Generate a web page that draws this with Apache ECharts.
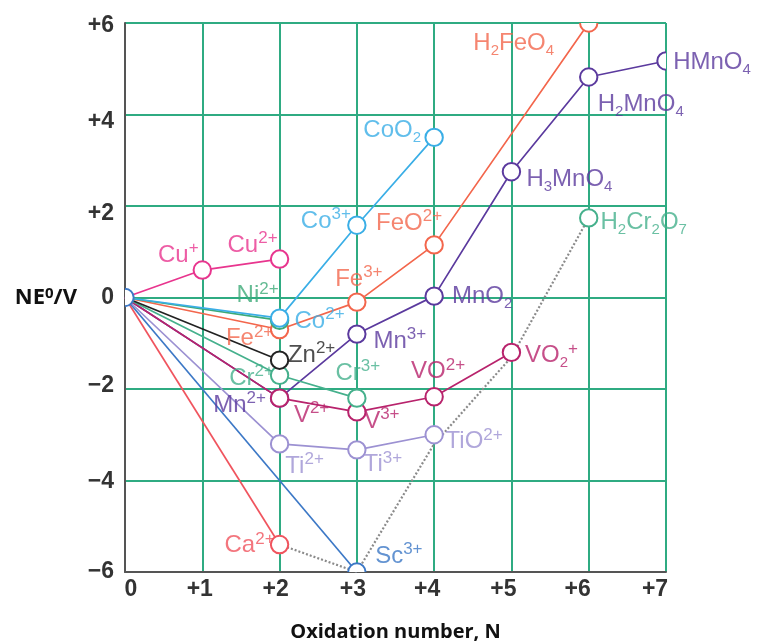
<!DOCTYPE html>
<html><head><meta charset="utf-8">
<script src="https://cdn.jsdelivr.net/npm/echarts@6.0.0/dist/echarts.min.js"></script>
<style>html,body{margin:0;padding:0;background:#fff}#c{width:760px;height:644px}</style>
</head><body><div id="c"></div>
<script>
// ---- data (oxidation number N, volt-equivalent NE°/V) ----
const xTickLabels = ['0','+1','+2','+3','+4','+5','+6','+7'];
const yTickLabels = ['−6','−4','−2','0','+2','+4','+6'];

const caN = [0, 2];            const caE = [0, -5.4];
const caLab = ['', 'Ca{sup|2+}'];
const scN = [0, 3];            const scE = [0, -6.0];
const scLab = ['', 'Sc{sup|3+}'];
const tiN = [0, 2, 3, 4];      const tiE = [0, -3.2, -3.33, -3.0];
const tiLab = ['', 'Ti{sup|2+}', 'Ti{sup|3+}', 'TiO{sup|2+}'];
const vN = [0, 2, 3, 4, 5];    const vE = [0, -2.2, -2.5, -2.17, -1.2];
const vLab = ['', 'V{sup|2+}', 'V{sup|3+}', 'VO{sup|2+}', 'VO{sub|2}{sup|+}'];
const crN = [0, 2, 3];         const crE = [0, -1.7, -2.2];
const crLab = ['', 'Cr{sup|2+}', 'Cr{sup|3+}'];
const cr6N = [6];              const cr6E = [1.74];
const cr6Lab = ['H{sub|2}Cr{sub|2}O{sub|7}'];
const mnN = [0, 2, 3, 4, 5, 6, 7];
const mnE = [0, -2.2, -0.8, 0.03, 2.75, 4.82, 5.17];
const mnLab = ['', 'Mn{sup|2+}', 'Mn{sup|3+}', 'MnO{sub|2}', 'H{sub|3}MnO{sub|4}', 'H{sub|2}MnO{sub|4}', 'HMnO{sub|4}'];
const feN = [0, 2, 3, 4, 6];   const feE = [0, -0.7, -0.1, 1.15, 6.0];
const feLab = ['', 'Fe{sup|2+}', 'Fe{sup|3+}', 'FeO{sup|2+}', 'H{sub|2}FeO{sub|4}'];
const coN = [0, 2, 3, 4];      const coE = [0, -0.45, 1.58, 3.5];
const coLab = ['', 'Co{sup|2+}', 'Co{sup|3+}', 'CoO{sub|2}'];
const niN = [0, 2];            const niE = [0, -0.5];
const niLab = ['', 'Ni{sup|2+}'];
const cuN = [0, 1, 2];         const cuE = [0, 0.6, 0.84];
const cuLab = ['', 'Cu{sup|+}', 'Cu{sup|2+}'];
const znN = [0, 2];            const znE = [0, -1.37];
const znLab = ['', 'Zn{sup|2+}'];
const trendN = [2, 3, 4, 5, 6];
const trendE = [-5.4, -6.0, -3.2, -1.3, 1.74];
const originN = [0];           const originE = [0];

// ---- styles ----
const C = {
  Ca:'#f0545e', Sc:'#3c78c6', Ti:'#9c91d2', V:'#b8236c', Cr:'#45b08c', Mn:'#5b3a9e',
  Fe:'#f3664c', Co:'#3aaee6', Ni:'#3daa78', Cu:'#e8358e', Zn:'#222222'
};
const GRID_GREEN = '#2fab82';
// label center offsets (px) relative to each point
const place = {
  Ca: [null, [-30, 1]],
  Sc: [null, [42, -16]],
  Ti: [null, [25, 22], [26, 15], [40, 7]],
  V:  [null, [32, 17], [25, 9], [4, -25], [40, 3]],
  Cr: [null, [-28, 3], [1, -25]],
  Cr6:[[55, 4]],
  Mn: [null, [-40, 7], [43, 7], [48, 0], [58, 8], [52, 27], [46, 1]],
  Fe: [null, [-30, 9], [2, -23], [-25, -22], [-75, 20]],
  Co: [null, [40, 3], [-31, -4], [-42, -7]],
  Ni: [null, [-22, -25]],
  Cu: [null, [-24, -15], [-27, -14]],
  Zn: [null, [32, -5]]
};
const xShift = [6, -2.5, -4, -4, -7, -8, -11, -11];
const yShift = [0, 1, -3, 0, 8, 7, 3];

const FONT = '"Liberation Sans", Arial, sans-serif';
const rich = {
  sup: {fontSize: 17, lineHeight: 18, verticalAlign: 'top', fontFamily: FONT},
  sub: {fontSize: 15, lineHeight: 10, verticalAlign: 'bottom', fontFamily: FONT}
};

const groups = [
  // key, N, E, labels, color
  ['Ca', caN, caE, caLab, C.Ca],
  ['Sc', scN, scE, scLab, C.Sc],
  ['Ti', tiN, tiE, tiLab, C.Ti],
  ['Mn', mnN, mnE, mnLab, C.Mn],
  ['V',  vN,  vE,  vLab,  C.V],
  ['Cr', crN, crE, crLab, C.Cr],
  ['Zn', znN, znE, znLab, C.Zn],
  ['Fe', feN, feE, feLab, C.Fe],
  ['Ni', niN, niE, niLab, C.Ni],
  ['Co', coN, coE, coLab, C.Co],
  ['Cu', cuN, cuE, cuLab, C.Cu],
  ['Cr6', cr6N, cr6E, cr6Lab, C.Cr]
];

const series = [];
// dotted trend line
series.push({
  type: 'line', data: trendN.map((n, i) => [n, trendE[i]]), showSymbol: false, symbol: 'none',
  lineStyle: {color: '#8a8a8a', width: 2.2, type: [2, 2]}, z: 2, clip: true, silent: true
});
// lines
groups.forEach(g => {
  if (g[1].length < 2) return;
  series.push({
    type: 'line', data: g[1].map((n, i) => [n, g[2][i]]), showSymbol: false, symbol: 'none',
    lineStyle: {color: g[4], width: 1.7}, z: 3, clip: true, silent: true
  });
});
// hollow circles (clipped to plot area)
function circles(N, E, color) {
  return {
    type: 'custom', clip: true, z: 5, silent: true,
    data: N.map((n, i) => [n, E[i]]),
    encode: {x: 0, y: 1},
    renderItem: (params, api) => {
      const p = api.coord([api.value(0), api.value(1)]);
      return {type: 'circle', shape: {cx: p[0], cy: p[1], r: 8.7},
              style: {fill: '#fff', stroke: color, lineWidth: 2}};
    }
  };
}
groups.forEach(g => {
  const start = g[1][0] === 0 ? 1 : 0;
  series.push(circles(g[1].slice(start), g[2].slice(start), g[4]));
});
series.push(circles(originN, originE, C.Sc));
// labels
groups.forEach(g => {
  const data = [];
  g[1].forEach((n, i) => {
    if (!g[3][i]) return;
    data.push({
      value: [n, g[2][i]],
      label: {formatter: g[3][i], offset: place[g[0]][i]}
    });
  });
  series.push({
    type: 'scatter', symbolSize: 0, z: 10, silent: true, data,
    label: {show: true, position: 'inside', align: 'center', verticalAlign: 'middle',
            color: g[4], fontSize: 24, lineHeight: 30, fontFamily: FONT,
            rich: {sup: Object.assign({color: g[4]}, rich.sup), sub: Object.assign({color: g[4]}, rich.sub)}}
  });
});

const xRich = {}, yRich = {};
xShift.forEach((s, i) => { xRich['x' + i] = {padding: s >= 0 ? [0, 0, 0, 2 * s] : [0, -2 * s, 0, 0]}; });
yShift.forEach((s, i) => { yRich['y' + i] = {padding: s >= 0 ? [2 * s, 0, 0, 0] : [0, 0, -2 * s, 0]}; });

const chart = echarts.init(document.getElementById('c'));
chart.setOption({
  animation: false,
  backgroundColor: '#fff',
  grid: {left: 125, right: 94, top: 23, bottom: 72, containLabel: false, outerBoundsMode: 'none'},
  xAxis: {
    type: 'value', min: 0, max: 7, interval: 1,
    axisLine: {show: true, onZero: false, lineStyle: {color: '#555', width: 2}},
    axisTick: {show: false},
    splitLine: {show: true, lineStyle: {color: GRID_GREEN, width: 2}},
    axisLabel: {
      margin: 6, color: '#333', fontSize: 23, fontWeight: 'bold', fontFamily: FONT,
      formatter: v => '{x' + Math.round(v) + '|' + xTickLabels[Math.round(v)] + '}',
      rich: xRich
    },
    name: 'Oxidation number, N', nameLocation: 'middle', nameGap: 50,
    nameTextStyle: {color: '#111', fontSize: 20, fontWeight: 'bold', fontFamily: '"Open Sans", sans-serif'}
  },
  yAxis: {
    type: 'value', min: -6, max: 6, interval: 2,
    axisLine: {show: true, onZero: false, lineStyle: {color: '#555', width: 2}},
    axisTick: {show: false},
    splitLine: {show: true, lineStyle: {color: GRID_GREEN, width: 2}},
    axisLabel: {
      margin: 11, color: '#333', fontSize: 23, fontWeight: 'bold', fontFamily: FONT,
      formatter: v => { const i = Math.round((v + 6) / 2); return '{y' + i + '|' + yTickLabels[i] + '}'; },
      rich: yRich
    },
    name: 'NE{s|0}/V', nameLocation: 'middle', nameRotate: 0, nameGap: 48,
    nameTextStyle: {color: '#111', fontSize: 22, fontWeight: 'bold', fontFamily: '"Open Sans", sans-serif',
                    align: 'right',
                    rich: {s: {fontSize: 15, fontWeight: 'bold', verticalAlign: 'top', lineHeight: 15, color: '#111', fontFamily: '"Open Sans", sans-serif'}}}
  },
  series
});
</script>
</body></html>
